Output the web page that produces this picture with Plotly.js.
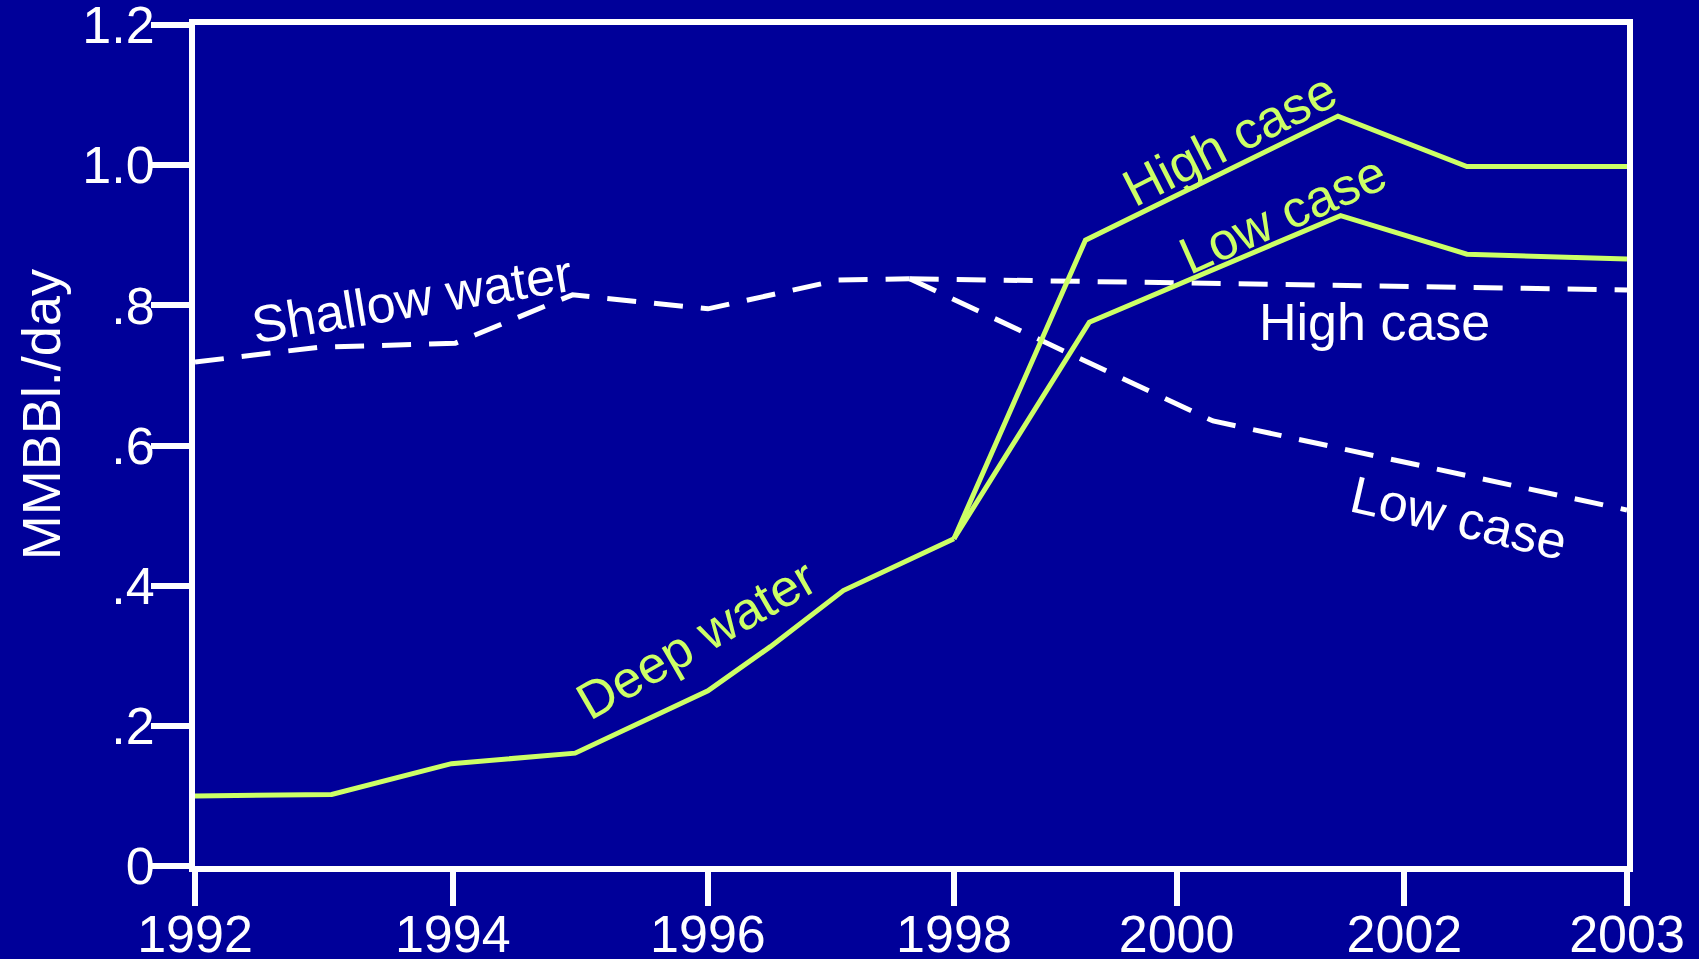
<!DOCTYPE html>
<html>
<head>
<meta charset="utf-8">
<script src="https://cdn.plot.ly/plotly-3.0.1.min.js"></script>
<style>
  html, body { margin: 0; padding: 0; background: #000099; }
  #chart { width: 1699px; height: 959px; }
</style>
</head>
<body>
<div id="chart"></div>
<script>
// Tick labels (x axis labels sit at the positions they occupy on the original chart)
const xTickText = ['1992', '1994', '1996', '1998', '2000', '2002', '2003'];
const xTickVals = [1992, 1993.98, 1995.94, 1997.83, 1999.54, 2001.29, 2003];
const yTickText = ['0', '.2', '.4', '.6', '.8', '1.0', '1.2'];
const yTickVals = [0, 0.2, 0.4, 0.6, 0.8, 1.0, 1.2];

// Deep water (green, solid)
const deepX = [1992, 1993.05, 1993.97, 1994.92, 1995.94, 1996.42, 1996.98, 1997.83];
const deepY = [0.100, 0.102, 0.146, 0.161, 0.250, 0.313, 0.393, 0.467];
const deepHighX = [1997.83, 1998.84, 2000.78, 2001.77, 2003];
const deepHighY = [0.467, 0.893, 1.070, 0.998, 0.998];
const deepLowX = [1997.83, 1998.87, 2000.80, 2001.77, 2003];
const deepLowY = [0.467, 0.776, 0.928, 0.873, 0.866];

// Shallow water (white, dashed)
const shallowX = [1992, 1992.94, 1994.0, 1994.9, 1995.94, 1996.94, 1997.49];
const shallowY = [0.719, 0.740, 0.746, 0.815, 0.795, 0.836, 0.838];
const shallowHighX = [1997.49, 2003];
const shallowHighY = [0.838, 0.822];
const shallowLowX = [1997.49, 1999.82, 2003];
const shallowLowY = [0.838, 0.635, 0.508];

const GREEN = '#CCFF66';
const WHITE = '#FFFFFF';
const BG = '#000099';
const FONT = 'Liberation Sans, Arial, sans-serif';

const dashLine = { color: WHITE, width: 5, dash: '29px,18px' };
const solidLine = { color: GREEN, width: 5 };

const traces = [
  { x: shallowX, y: shallowY, mode: 'lines', line: dashLine, name: 'Shallow water' },
  { x: shallowHighX, y: shallowHighY, mode: 'lines', line: dashLine, name: 'Shallow water - High case' },
  { x: shallowLowX, y: shallowLowY, mode: 'lines', line: dashLine, name: 'Shallow water - Low case' },
  { x: deepX, y: deepY, mode: 'lines', line: solidLine, name: 'Deep water' },
  { x: deepHighX, y: deepHighY, mode: 'lines', line: solidLine, name: 'Deep water - High case' },
  { x: deepLowX, y: deepLowY, mode: 'lines', line: solidLine, name: 'Deep water - Low case' }
];

const ann = (text, x, y, color, angle) => ({
  text: text, x: x, y: y, xref: 'x', yref: 'y', showarrow: false,
  xanchor: 'center', yanchor: 'middle', textangle: angle,
  font: { family: FONT, size: 52, color: color }
});

const layout = {
  width: 1699, height: 959,
  paper_bgcolor: BG, plot_bgcolor: BG,
  showlegend: false,
  margin: { l: 195, r: 72, t: 25, b: 93, pad: 0 },
  font: { family: FONT, color: WHITE, size: 52 },
  xaxis: {
    range: [1992, 2003], showgrid: false, zeroline: false,
    showline: true, linecolor: WHITE, linewidth: 6, mirror: true,
    ticks: 'outside', ticklen: 34, tickwidth: 6, tickcolor: WHITE,
    tickvals: xTickVals, ticktext: xTickText,
    ticklabelstandoff: -16, ticklabeloverflow: 'allow',
    tickfont: { family: FONT, size: 52, color: WHITE }
  },
  yaxis: {
    range: [0, 1.2], showgrid: false, zeroline: false,
    showline: true, linecolor: WHITE, linewidth: 6, mirror: true,
    ticks: 'outside', ticklen: 38, tickwidth: 6, tickcolor: WHITE,
    tickvals: yTickVals, ticktext: yTickText,
    ticklabelstandoff: -14, ticklabeloverflow: 'allow',
    tickfont: { family: FONT, size: 52, color: WHITE }
  },
  annotations: [
    { text: 'MMBBl./day', xref: 'paper', yref: 'paper', x: -0.107, y: 0.537,
      xanchor: 'center', yanchor: 'middle', textangle: -90, showarrow: false,
      font: { family: FONT, size: 54, color: WHITE } },
    ann('Shallow water', 1993.67, 0.809, WHITE, -9.5),
    ann('Deep water', 1995.85, 0.324, GREEN, -30),
    ann('High case', 1999.95, 1.037, GREEN, -27),
    ann('Low case', 2000.36, 0.930, GREEN, -24),
    ann('High case', 2001.06, 0.776, WHITE, 0),
    ann('Low case', 2001.71, 0.496, WHITE, 13)
  ]
};

Plotly.newPlot('chart', traces, layout, { staticPlot: true, displayModeBar: false });
</script>
</body>
</html>
